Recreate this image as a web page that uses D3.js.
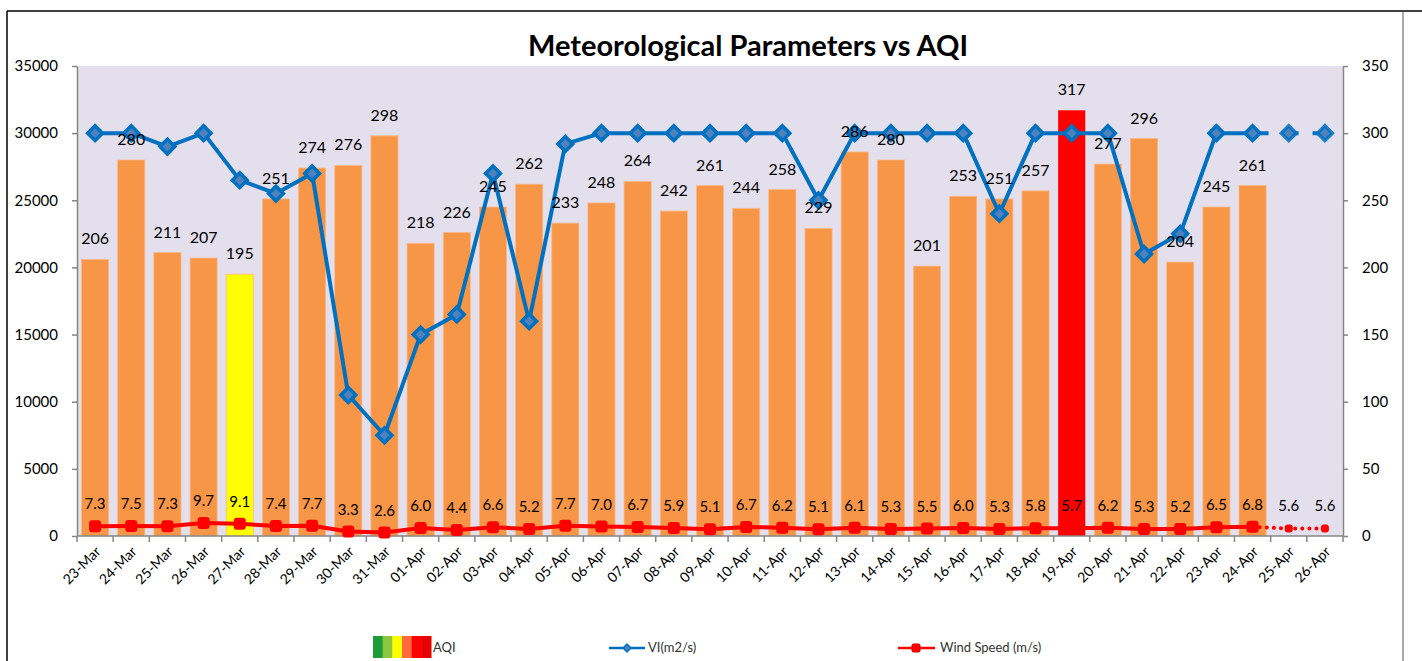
<!DOCTYPE html>
<html>
<head>
<meta charset="utf-8">
<script src="https://cdn.jsdelivr.net/npm/d3@7"></script>
<style>
  body { margin: 0; background: #fff; }
  svg { display: block; font-family: Lato, "Open Sans", sans-serif; }
</style>
</head>
<body>
<svg id="chart" width="1422" height="661"></svg>
<script>
// categories
const dates = ["23-Mar", "24-Mar", "25-Mar", "26-Mar", "27-Mar", "28-Mar", "29-Mar", "30-Mar",
  "31-Mar", "01-Apr", "02-Apr", "03-Apr", "04-Apr", "05-Apr", "06-Apr", "07-Apr", "08-Apr",
  "09-Apr", "10-Apr", "11-Apr", "12-Apr", "13-Apr", "14-Apr", "15-Apr", "16-Apr", "17-Apr",
  "18-Apr", "19-Apr", "20-Apr", "21-Apr", "22-Apr", "23-Apr", "24-Apr", "25-Apr", "26-Apr"];

// AQI (bars, right axis); no observation for the last two days
const aqi = [206, 280, 211, 207, 195, 251, 274, 276, 298, 218, 226, 245, 262, 233, 248, 264,
  242, 261, 244, 258, 229, 286, 280, 201, 253, 251, 257, 317, 277, 296, 204, 245, 261, null, null];

// ventilation index m2/s (left axis)
const vi = [30000, 30000, 29000, 30000, 26500, 25500, 27000, 10500, 7500, 15000, 16500, 27000,
  16000, 29200, 30000, 30000, 30000, 30000, 30000, 30000, 25000, 30000, 30000, 30000, 30000,
  24000, 30000, 30000, 30000, 21000, 22500, 30000, 30000, 30000, 30000];

// wind speed m/s (right axis)
const wind = [7.3, 7.5, 7.3, 9.7, 9.1, 7.4, 7.7, 3.3, 2.6, 6.0, 4.4, 6.6, 5.2, 7.7, 7.0, 6.7, 5.9,
  5.1, 6.7, 6.2, 5.1, 6.1, 5.3, 5.5, 6.0, 5.3, 5.8, 5.7, 6.2, 5.3, 5.2, 6.5, 6.8, 5.6, 5.6];

// forecast days start here (drawn dotted / dashed)
const forecastFrom = 32;

const leftTicks = d3.range(0, 35001, 5000);
const rightTicks = d3.range(0, 351, 50);

// plot area
const plot = { left: 77, right: 1343, top: 66, bottom: 536 };

const svg = d3.select("#chart");

// outer frame
svg.append("line").attr("x1", 7).attr("x2", 1422).attr("y1", 11).attr("y2", 11)
  .attr("stroke", "#000").attr("stroke-width", 1.5);
svg.append("line").attr("x1", 7).attr("x2", 7).attr("y1", 11).attr("y2", 661)
  .attr("stroke", "#000").attr("stroke-width", 1.5);
svg.append("line").attr("x1", 1403).attr("x2", 1403).attr("y1", 12).attr("y2", 661)
  .attr("stroke", "#8c8c8c").attr("stroke-width", 1.5);

// scales
const x = d3.scaleBand()
  .domain(dates)
  .range([plot.left, plot.right])
  .paddingInner(0.25)
  .paddingOuter(0.125);

const yL = d3.scaleLinear().domain([0, 35000]).range([plot.bottom, plot.top]);
const yR = d3.scaleLinear().domain([0, 350]).range([plot.bottom, plot.top]);

const cx = d => x(d) + x.bandwidth() / 2;

// plot background
svg.append("rect")
  .attr("x", plot.left).attr("y", plot.top)
  .attr("width", plot.right - plot.left).attr("height", plot.bottom - plot.top)
  .attr("fill", "#e4dfec");

// title
svg.append("text")
  .attr("x", 748).attr("y", 56)
  .attr("text-anchor", "middle")
  .style("font-size", "29px").style("font-weight", "bold")
  .text("Meteorological Parameters vs AQI");

// bars, coloured by AQI band
const barColor = v => v > 300 ? "#ff0000" : v > 200 ? "#f79646" : "#ffff00";

svg.append("g").selectAll("rect")
  .data(dates.map((d, i) => ({ d, v: aqi[i] })).filter(o => o.v != null))
  .join("rect")
  .attr("x", o => x(o.d))
  .attr("y", o => yR(o.v))
  .attr("width", x.bandwidth())
  .attr("height", o => plot.bottom - yR(o.v))
  .attr("fill", o => barColor(o.v))
  .attr("stroke", o => o.v > 300 ? "none" : "#f9b98a")
  .attr("stroke-width", 0.8);

// axes
const axisColor = "#868686";

const gL = svg.append("g")
  .attr("transform", `translate(${plot.left},0)`)
  .call(d3.axisLeft(yL).tickValues(leftTicks).tickFormat(d3.format("d"))
    .tickSize(5).tickPadding(14).tickSizeOuter(0));

const gR = svg.append("g")
  .attr("transform", `translate(${plot.right},0)`)
  .call(d3.axisRight(yR).tickValues(rightTicks).tickFormat(d3.format("d"))
    .tickSize(5).tickPadding(14).tickSizeOuter(0));

[gL, gR].forEach(g => {
  g.select(".domain").attr("stroke", axisColor).attr("stroke-width", 1.5);
  g.selectAll(".tick line").attr("stroke", axisColor).attr("stroke-width", 1.5);
  g.selectAll(".tick text").attr("fill", "#000").style("font-size", "15px")
    .style("font-family", "Lato, sans-serif");
});

// x axis
svg.append("line")
  .attr("x1", plot.left).attr("x2", plot.right)
  .attr("y1", plot.bottom).attr("y2", plot.bottom)
  .attr("stroke", axisColor).attr("stroke-width", 1.5);

const half = (x.step() - x.bandwidth()) / 2;
svg.append("g").selectAll("line")
  .data(dates.concat(["end"]))
  .join("line")
  .attr("x1", (d, i) => i < dates.length ? x(d) - half : x(dates[i - 1]) + x.bandwidth() + half)
  .attr("x2", (d, i) => i < dates.length ? x(d) - half : x(dates[i - 1]) + x.bandwidth() + half)
  .attr("y1", plot.bottom).attr("y2", plot.bottom + 6)
  .attr("stroke", axisColor).attr("stroke-width", 1.5);

svg.append("g").selectAll("text")
  .data(dates)
  .join("text")
  .attr("transform", d => `translate(${cx(d) + 3},${plot.bottom + 13}) rotate(-45)`)
  .attr("text-anchor", "end")
  .attr("dy", "0.35em")
  .style("font-size", "14px")
  .text(d => d);

// VI line
const viPts = dates.map((d, i) => ({ d, v: vi[i], i }));
const viLine = d3.line().x(p => cx(p.d)).y(p => yL(p.v));

svg.append("path")
  .attr("d", viLine(viPts.filter(p => p.i <= forecastFrom)))
  .attr("fill", "none").attr("stroke", "#0070c0").attr("stroke-width", 4)
  .attr("stroke-linejoin", "round");
svg.append("path")
  .attr("d", viLine(viPts.filter(p => p.i >= forecastFrom)))
  .attr("fill", "none").attr("stroke", "#0070c0").attr("stroke-width", 4)
  .attr("stroke-dasharray", "16,14");

svg.append("g").selectAll("path")
  .data(viPts)
  .join("path")
  .attr("transform", p => `translate(${cx(p.d)},${yL(p.v)}) rotate(45)`)
  .attr("d", d3.symbol().type(d3.symbolSquare).size(110))
  .attr("fill", "#4f81bd")
  .attr("stroke", "#0070c0")
  .attr("stroke-width", 3.5)
  .attr("stroke-opacity", p => p.i > forecastFrom ? 0.85 : 1);

// wind speed line
const wPts = dates.map((d, i) => ({ d, v: wind[i], i }));
const wLine = d3.line().x(p => cx(p.d)).y(p => yR(p.v));

svg.append("path")
  .attr("d", wLine(wPts.filter(p => p.i <= forecastFrom)))
  .attr("fill", "none").attr("stroke", "#ff0000").attr("stroke-width", 4)
  .attr("stroke-linejoin", "round");
svg.append("path")
  .attr("d", wLine(wPts.filter(p => p.i >= forecastFrom)))
  .attr("fill", "none").attr("stroke", "#ff0000").attr("stroke-width", 4)
  .attr("stroke-linecap", "round")
  .attr("stroke-dasharray", "0.1,7");

svg.append("g").selectAll("rect")
  .data(wPts)
  .join("rect")
  .attr("x", p => cx(p.d) - (p.i > forecastFrom ? 4 : 6))
  .attr("y", p => yR(p.v) - (p.i > forecastFrom ? 4 : 6))
  .attr("width", p => p.i > forecastFrom ? 8 : 12)
  .attr("height", p => p.i > forecastFrom ? 8 : 12)
  .attr("rx", 3)
  .attr("fill", "#ff0000");

// wind speed labels
svg.append("g").selectAll("text")
  .data(wPts)
  .join("text")
  .attr("x", p => cx(p.d))
  .attr("y", p => yR(p.v) - 17)
  .attr("text-anchor", "middle")
  .style("font-size", "15px")
  .text(p => p.v.toFixed(1));

// AQI labels
svg.append("g").selectAll("text")
  .data(dates.map((d, i) => ({ d, v: aqi[i] })).filter(o => o.v != null))
  .join("text")
  .attr("x", o => cx(o.d))
  .attr("y", o => yR(o.v) - 15)
  .attr("text-anchor", "middle")
  .style("font-size", "16px")
  .text(o => o.v);

// legend
const legend = svg.append("g").style("font-size", "13px").attr("fill", "#333");
const aqiStripes = ["#1e9c3c", "#8cc63f", "#ffff00", "#ff6a3d", "#ff0000", "#e60000"];
legend.selectAll("rect")
  .data(aqiStripes)
  .join("rect")
  .attr("x", (c, i) => 373 + i * 58 / aqiStripes.length)
  .attr("y", 636)
  .attr("width", 58 / aqiStripes.length + 0.5)
  .attr("height", 22)
  .attr("fill", c => c);
legend.append("text").attr("x", 433).attr("y", 652).text("AQI");

legend.append("line").attr("x1", 609).attr("x2", 645).attr("y1", 648).attr("y2", 648)
  .attr("stroke", "#0070c0").attr("stroke-width", 2.5);
legend.append("path")
  .attr("transform", "translate(627,648) rotate(45)")
  .attr("d", d3.symbol().type(d3.symbolSquare).size(30))
  .attr("fill", "#4f81bd").attr("stroke", "#0070c0").attr("stroke-width", 1.5);
legend.append("text").attr("x", 648).attr("y", 652).text("VI(m2/s)");

legend.append("line").attr("x1", 898).attr("x2", 935).attr("y1", 648).attr("y2", 648)
  .attr("stroke", "#ff0000").attr("stroke-width", 2.5);
legend.append("rect").attr("x", 912).attr("y", 644).attr("width", 8).attr("height", 8)
  .attr("rx", 1.5).attr("fill", "#ff0000").attr("stroke", "#c00000");
legend.append("text").attr("x", 940).attr("y", 652).text("Wind Speed (m/s)");
</script>
</body>
</html>
